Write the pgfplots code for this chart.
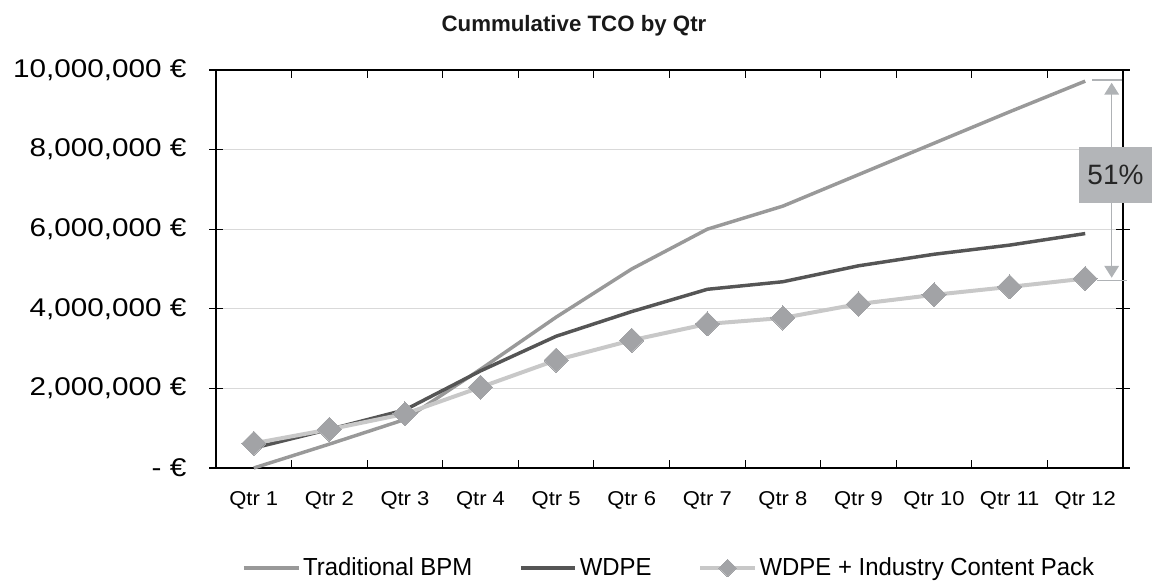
\documentclass[border=0pt]{standalone}
\usepackage{fontspec}
\setmainfont{Liberation Sans}
\newfontfamily\yfont{Liberation Sans}[FakeStretch=1.16]
\newfontfamily\xfont{Liberation Sans}[FakeStretch=1.1]
\newfontfamily\lfont{Liberation Sans}[FakeStretch=0.97]
\usepackage{pgfplots}
\pgfplotsset{compat=1.18}
\usetikzlibrary{arrows.meta}
\definecolor{tradcol}{HTML}{999999}
\definecolor{wdpecol}{HTML}{555555}
\definecolor{icpline}{HTML}{C8C8C8}
\definecolor{icpmark}{HTML}{A2A3A6}
\definecolor{gridcol}{HTML}{D9D9D9}
\definecolor{anncol}{HTML}{AFB2B5}
\definecolor{boxcol}{HTML}{B3B5B8}
\pgfplotsset{
  mylinelegend/.style={legend image code/.code={\draw[##1] (0pt,0pt) -- (41pt,0pt);}},
  mydiamondlegend/.style={legend image code/.code={\draw[mark repeat=2, mark phase=2, ##1, mark size=4.6pt] plot coordinates {(0pt,0pt) (20.5pt,0pt) (41pt,0pt)};}},
}
\begin{document}
\begin{tikzpicture}
\path[use as bounding box] (-162pt,-87pt) rectangle (709.5pt,351pt);
\begin{axis}[
  at={(0,0)}, anchor=south west,
  scale only axis, width=680.25pt, height=298.5pt,
  xmin=0.5, xmax=12.5, ymin=0, ymax=10000000,
  clip=false,
  axis line style={black, line width=0.9pt},
  xtick={1,...,12},
  xticklabels={Qtr 1,Qtr 2,Qtr 3,Qtr 4,Qtr 5,Qtr 6,Qtr 7,Qtr 8,Qtr 9,Qtr 10,Qtr 11,Qtr 12},
  major x tick style={draw=none},
  minor xtick={0.5,1.5,...,12.5},
  minor x tick style={black, line width=0.8pt},
  minor tick length=6pt,
  x tick label style={font=\xfont\fontsize{15}{17}\selectfont, inner sep=0pt, anchor=north, yshift=-17.5pt},
  ytick={0,2000000,4000000,6000000,8000000,10000000},
  yticklabels={{- €},{2,000,000 €},{4,000,000 €},{6,000,000 €},{8,000,000 €},{10,000,000 €}},
  scaled y ticks=false,
  y tick label style={font=\yfont\fontsize{19.2}{22}\selectfont, inner sep=0pt, anchor=east, xshift=-17pt},
  major y tick style={black, line width=0.8pt},
  ytick align=center,
  major tick length=10pt,
  ymajorgrids,
  major grid style={gridcol, line width=0.8pt},
  legend columns=3,
  legend style={at={(0.5,-0.2513)}, anchor=center, draw=none, fill=none,
    font=\lfont\fontsize{18.5}{21}\selectfont,
    /tikz/every even column/.append style={column sep=33pt}},
  legend cell align=left,
]
\addplot[color=tradcol, line width=2.6pt, mark=none, mylinelegend] coordinates {
(1,0) (2,600000) (3,1220000) (4,2480000) (5,3790000) (6,5000000)
(7,6000000) (8,6580000) (9,7370000) (10,8160000) (11,8950000) (12,9720000)};
\addlegendentry{Traditional BPM}
\addplot[color=wdpecol, line width=2.6pt, mark=none, mylinelegend] coordinates {
(1,500000) (2,970000) (3,1460000) (4,2440000) (5,3310000) (6,3930000)
(7,4490000) (8,4680000) (9,5080000) (10,5370000) (11,5600000) (12,5890000)};
\addlegendentry{WDPE}
\addplot[color=icpline, line width=3pt, mark=square*, mark size=6.4pt,
  mark options={rotate=45, fill=icpmark, draw=icpmark, line width=0pt},
  mydiamondlegend] coordinates {
(1,620000) (2,970000) (3,1360000) (4,2030000) (5,2710000) (6,3210000)
(7,3620000) (8,3770000) (9,4120000) (10,4350000) (11,4550000) (12,4760000)};
\addlegendentry{WDPE + Industry Content Pack}
% right border
\draw[black, line width=0.9pt] (rel axis cs:1,0) -- (rel axis cs:1,1);
% annotation
\draw[anncol, line width=1.3pt] (axis cs:12.09,9750000) -- (axis cs:12.49,9750000);
\draw[anncol, line width=1.3pt] (axis cs:12.16,4710000) -- (axis cs:12.55,4710000);
\draw[anncol, line width=1.2pt, {Triangle[width=11pt,length=9pt]}-{Triangle[width=11pt,length=9pt]}] (axis cs:12.35,9680000) -- (axis cs:12.35,4780000);
\node[fill=boxcol, minimum width=54.75pt, minimum height=42pt, inner sep=0pt, font=\fontsize{21}{24}\selectfont, text=black!85] at (axis cs:12.40,7360000) {51\%};
\end{axis}
\node[font=\bfseries\fontsize{16.7}{19}\selectfont, text=black!90] at (268.5pt,331.5pt) {Cummulative TCO by Qtr};
\end{tikzpicture}
\end{document}
